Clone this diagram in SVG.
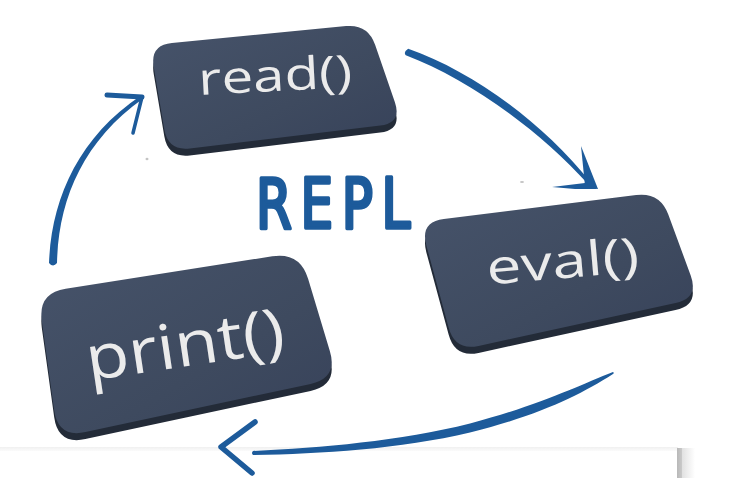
<svg xmlns="http://www.w3.org/2000/svg" width="739" height="478" viewBox="0 0 739 478">
<defs>
<linearGradient id="face" x1="0" y1="0" x2="1" y2="1">
<stop offset="0" stop-color="#46536a"/>
<stop offset="0.6" stop-color="#3e4a5f"/>
<stop offset="1" stop-color="#37425a"/>
</linearGradient>
<linearGradient id="vshade" x1="0" y1="0" x2="1" y2="0">
<stop offset="0" stop-color="#b8b8b8"/>
<stop offset="0.25" stop-color="#c8c8c8"/>
<stop offset="0.3" stop-color="#e2e2e2"/>
<stop offset="1" stop-color="#ffffff"/>
</linearGradient>
<linearGradient id="hshade" x1="0" y1="0" x2="0" y2="1">
<stop offset="0" stop-color="#f0f0f0"/>
<stop offset="1" stop-color="#fbfbfb"/>
</linearGradient>
<style>
.base{fill:#232b38}
.face{fill:url(#face)}
.lbl{fill:#ebebeb;font-family:"Open Sans","DejaVu Sans",sans-serif;font-weight:500;text-anchor:middle}
.brush{fill:none;stroke:#1d5b9b;stroke-linecap:round;stroke-linejoin:round}
.ink{fill:#1d5b9b}
.repl{fill:#1d5b9b;stroke:#1d5b9b;stroke-width:3.6;stroke-linejoin:round;font-family:"DejaVu Sans",sans-serif;font-weight:normal;font-stretch:condensed}
.speck{fill:#c4c4c4}
</style>
</defs>
<rect width="739" height="478" fill="#ffffff"/>
<g id="frame">
<rect x="0" y="447" width="678" height="4" fill="url(#hshade)"/>
<rect x="677" y="448" width="18" height="30" fill="url(#vshade)"/>
</g>
<g id="specks">
<ellipse class="speck" cx="147" cy="159" rx="1.5" ry="1.2"/>
<ellipse class="speck" cx="522" cy="182" rx="2" ry="1"/>
</g>
<g id="connectors">
<g id="arrow-print-read">
<path class="ink" d="M57,263.1 C58.4,200.7 82.3,141.9 143.1,98.6 L140.9,95.4 C77.7,138.1 51.6,199.3 49,262.9 Q53,268 57,263.1 Z"/>
<path class="brush" stroke-width="5" d="M107,95 L142,97"/>
<path class="brush" stroke-width="3.5" d="M142,97 L133,133"/>
</g>
<g id="arrow-read-eval">
<path class="ink" d="M408.2,48.7 C472.2,71.1 542.7,122 591.1,183 L588.9,185 C537.3,128 467.8,78.9 405.8,55.3 Q403,52 408.2,48.7 Z"/>
<polygon class="ink" points="581,146 598,189 585,186"/>
<polygon class="ink" points="552,187 585,183 598,189 575,189"/>
</g>
<g id="arrow-eval-print">
<path class="ink" d="M613,372 C580,385 540,405 470,423.5 C400,441 320,448 253,451 Q251,453 253,455 C320,454 400,449 470,432.5 C540,415 580,395 613,374 Q614.5,373 613,372 Z"/>
<polyline class="brush" stroke-width="5.5" stroke-linejoin="miter" points="255,422 221,447 252,473"/>
</g>
</g>
<g id="node-read">
<path class="base" transform="translate(0,7)" d="M171.9,42.9 L346.1,26.1 Q368,24 375.1,44.8 L394.9,102.2 Q402,123 380.2,125.6 L189.8,148.4 Q168,151 164.3,129.3 L153.7,66.7 Q150,45 171.9,42.9 Z"/>
<path class="face" d="M171.9,42.9 L346.1,26.1 Q368,24 375.1,44.8 L394.9,102.2 Q402,123 380.2,125.6 L189.8,148.4 Q168,151 164.3,129.3 L153.7,66.7 Q150,45 171.9,42.9 Z"/>
<text class="lbl" font-size="45" textLength="154" lengthAdjust="spacingAndGlyphs" transform="translate(276,91) rotate(-3)">read()</text>
</g>
<g id="node-eval">
<path class="base" transform="translate(0,7)" d="M443.8,219 L636.2,195 Q660,192 668.3,214.5 L690.7,275.5 Q699,298 675.5,303.1 L478.5,345.9 Q455,351 448.7,327.8 L426.3,245.2 Q420,222 443.8,219 Z"/>
<path class="face" d="M443.8,219 L636.2,195 Q660,192 668.3,214.5 L690.7,275.5 Q699,298 675.5,303.1 L478.5,345.9 Q455,351 448.7,327.8 L426.3,245.2 Q420,222 443.8,219 Z"/>
<text class="lbl" font-size="48" textLength="153" lengthAdjust="spacingAndGlyphs" transform="translate(564,278) rotate(-5)">eval()</text>
</g>
<g id="node-print">
<path class="base" transform="translate(0,7)" d="M65.7,288.7 L272.3,256.3 Q300,252 308.1,278.8 L329.9,351.2 Q338,378 310.6,383.9 L85.4,432.1 Q58,438 54.2,410.3 L41.8,320.7 Q38,293 65.7,288.7 Z"/>
<path class="face" d="M65.7,288.7 L272.3,256.3 Q300,252 308.1,278.8 L329.9,351.2 Q338,378 310.6,383.9 L85.4,432.1 Q58,438 54.2,410.3 L41.8,320.7 Q38,293 65.7,288.7 Z"/>
<text class="lbl" font-size="62" textLength="200" lengthAdjust="spacingAndGlyphs" transform="translate(188,366) rotate(-8.5)">print()</text>
</g>
<g id="label-repl">
<text class="repl" font-size="70" textLength="188" lengthAdjust="spacing" transform="translate(256,228) scale(0.82,1)">REPL</text>
</g>
</svg>
